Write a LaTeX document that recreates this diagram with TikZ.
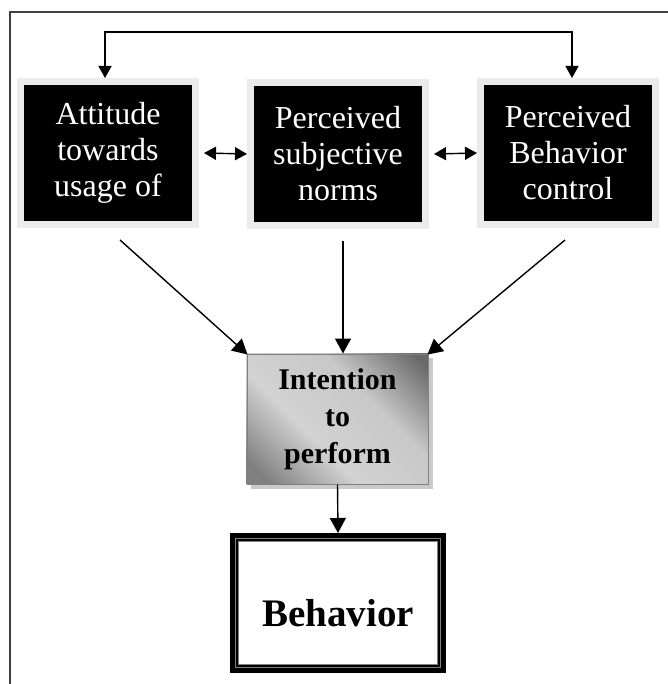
\documentclass[tikz,border=0pt]{standalone}
\usepackage{fontspec}
\setmainfont{Liberation Serif}
\usetikzlibrary{arrows.meta,shadows,calc,backgrounds}
\definecolor{boxrim}{HTML}{EBEBEB}
\definecolor{framecol}{HTML}{404040}
\definecolor{gdark}{HTML}{6A6A6A}
\definecolor{gmid}{HTML}{D2D2D2}
\pgfdeclareverticalshading{intgrad}{100bp}{color(0bp)=(gdark!85); color(20bp)=(gdark!85); color(40bp)=(gmid); color(62bp)=(gmid!95!black); color(82bp)=(gdark); color(100bp)=(gdark)}
\begin{document}
\begin{tikzpicture}[x=1pt,y=-1pt,
  blackbox/.style={fill=black, draw=boxrim, line width=7pt, minimum width=175pt, minimum height=143pt,
    text=white, font=\fontsize{32}{36}\selectfont, align=center, inner sep=0pt,
    drop shadow={shadow xshift=1.5pt, shadow yshift=-2.5pt, fill=black!30, opacity=0.6}},
  intbox/.style={draw=gray, line width=1pt, minimum width=181pt, minimum height=130pt,
    font=\bfseries\fontsize{30}{37}\selectfont, align=center, inner sep=0pt},
  intshade/.style={shading=intgrad, shading angle=-45},
  intshadow/.style={fill=black!35, opacity=0.6},
  behbox/.style={fill=white, draw=black, line width=8pt, minimum width=208pt, minimum height=132pt,
    font=\bfseries\fontsize{39}{42}\selectfont, inner sep=0pt, text height=46pt, text depth=0pt},
  innerline/.style={gray, line width=0.8pt},
  conn/.style={line width=1.4pt, -{Triangle[length=15pt,width=16pt]}},
  biconn/.style={line width=1.4pt, {Triangle[length=12pt,width=13pt]}-{Triangle[length=12pt,width=13pt]}},
  frameline/.style={framecol, line width=1.5pt}
]
\useasboundingbox (0,0) rectangle (667,684);
\draw[frameline] (10,700) -- (10,12) -- (680,12);

\node[blackbox] (a) at (108,153) {Attitude\\towards\\usage of};
\node[blackbox] (b) at (338,154) {Perceived\\subjective\\norms};
\node[blackbox] (c) at (568,153) {Perceived\\Behavior\\control};

\node[intbox] (i) at (337.5,419) {Intention\\to\\perform};
\begin{pgfonlayer}{background}
  \fill[intshadow] ([shift={(4,4)}]i.north west) rectangle ([shift={(4,4)}]i.south east);
  \shade[intshade] (i.north west) rectangle (i.south east);
\end{pgfonlayer}

\node[behbox] (beh) at (338,603) {Behavior};
\draw[innerline] ([shift={(5.5,5.5)}]beh.north west) rectangle ([shift={(-5.5,-5.5)}]beh.south east);
\draw[innerline] ([shift={(8.5,8.5)}]beh.north west) rectangle ([shift={(-8.5,-8.5)}]beh.south east);

\coordinate (topline) at (0,32);
\draw[biconn] ([xshift=-3pt]a.north) -- ([xshift=-3pt]a.north |- topline) -| ([xshift=4pt]c.north);

\draw[biconn] ([xshift=5pt]a.east) -- (b.west);
\draw[biconn] ([xshift=5pt]b.east) -- (c.west);

\draw[conn] ([shift={(12,12)}]a.south) -- ([shift={(1,1)}]i.north west);
\draw[conn] ([shift={(5,12)}]b.south) -- ([xshift=5.5pt]i.north);
\draw[conn] ([shift={(-3,12)}]c.south) -- ([shift={(-1,1)}]i.north east);
\draw[conn] (i.south) -- (beh.north);
\end{tikzpicture}
\end{document}
